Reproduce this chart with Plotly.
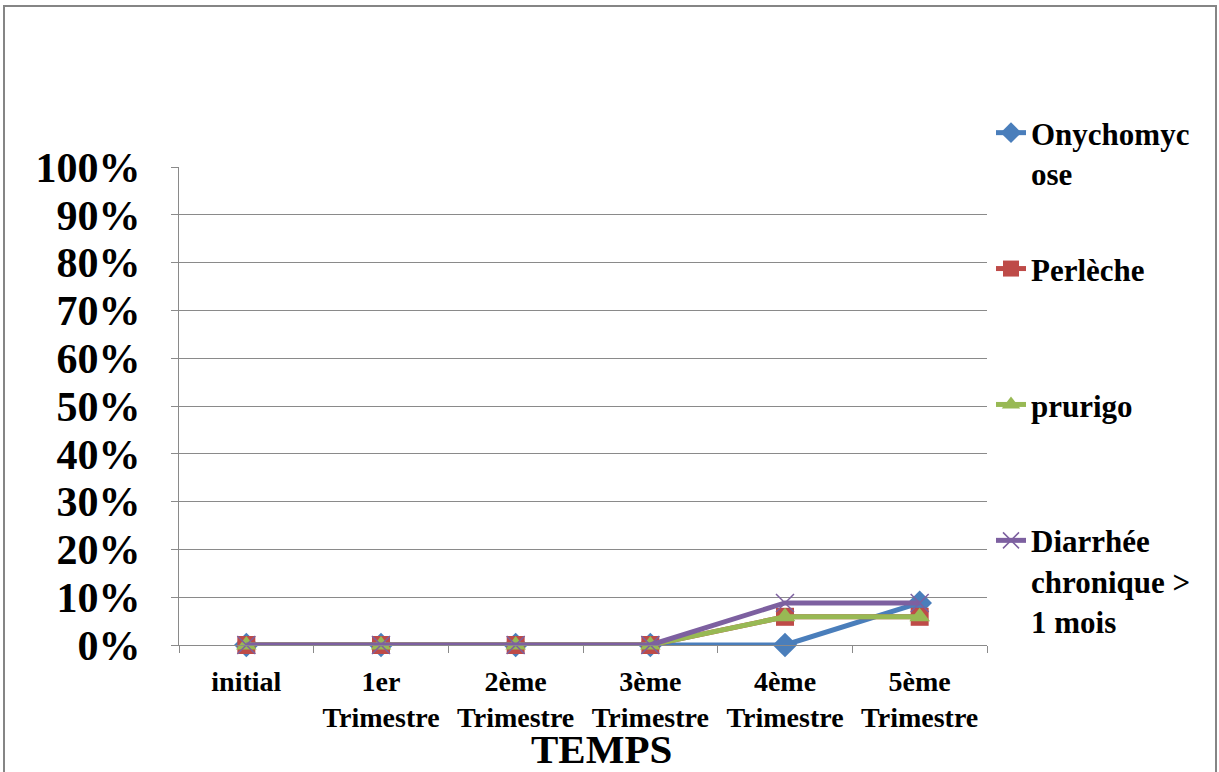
import plotly.graph_objects as go

# Quarterly follow-up periods
categories = ["initial", "1er<br>Trimestre", "2ème<br>Trimestre",
              "3ème<br>Trimestre", "4ème<br>Trimestre", "5ème<br>Trimestre"]

# Share of patients presenting each condition per period
onychomycose = [0, 0, 0, 0, 0, 0.088]
perleche = [0, 0, 0, 0, 0.059, 0.059]
prurigo = [0, 0, 0, 0, 0.059, 0.059]
diarrhee = [0, 0, 0, 0, 0.088, 0.088]

series_names = ["Onychomyc<br>ose<br>\u00a0", "Perlèche<br>\u00a0<br>\u00a0",
                "prurigo<br>\u00a0<br>\u00a0", "Diarrhée<br>chronique ><br>1 mois"]

W, H = 1219, 772
L, R, T, B = 179, 987, 167, 645  # plot area in pixels
pw, ph = R - L, B - T

FONT = '"Liberation Serif", "Times New Roman", Times, serif'
GRID = "#8a8a8a"

styles = [
    dict(color="#4A7EBB", symbol="diamond", size=19),
    dict(color="#BE4B48", symbol="square", size=18),
    dict(color="#98B954", symbol="triangle-up", size=18),
    dict(color="#7D60A0", symbol="x-thin-open", size=18),
]

fig = go.Figure()
for i, (name, vals, st) in enumerate(zip(series_names,
                                         [onychomycose, perleche, prurigo, diarrhee],
                                         styles)):
    marker = dict(symbol=st["symbol"], size=st["size"], color=st["color"])
    if st["symbol"].startswith("x-thin"):
        marker["line"] = dict(color="#9d8fbf", width=1.5)
    fig.add_trace(go.Scatter(
        x=categories, y=vals, name=name, mode="lines+markers",
        line=dict(color=st["color"], width=5),
        marker=marker, cliponaxis=False, legendgroup=f"g{i}",
    ))


def px_x(p):
    return (p - L) / pw


def px_y(p):
    return (B - p) / ph


fig.update_layout(
    width=W, height=H,
    margin=dict(l=L, r=W - R, t=T, b=H - B, pad=0),
    paper_bgcolor="white", plot_bgcolor="white",
    font=dict(family=FONT, color="black"),
    showlegend=True,
    legend=dict(
        x=px_x(991), y=px_y(106), xanchor="left", yanchor="top",
        bgcolor="rgba(0,0,0,0)", traceorder="grouped", tracegroupgap=12,
        valign="top", itemwidth=30, maxheight=700,
        font=dict(family=FONT, size=31, color="black", weight="bold"),
    ),
    xaxis=dict(
        type="category", range=[-0.5, 5.5], showgrid=False,
        showline=True, linecolor=GRID, linewidth=1,
        ticks="outside", tickson="boundaries", ticklen=7, tickcolor=GRID,
        tickfont=dict(family=FONT, size=28, color="black", weight="bold"),
        ticklabelstandoff=11, zeroline=False,
    ),
    yaxis=dict(
        range=[0, 1], dtick=0.1, tickformat=".0%",
        showgrid=True, gridcolor=GRID, gridwidth=1,
        showline=True, linecolor=GRID, linewidth=1,
        ticks="outside", ticklen=7, tickcolor=GRID,
        tickfont=dict(family=FONT, size=42, color="black", weight="bold"),
        ticklabelstandoff=22, zeroline=False,
    ),
    annotations=[dict(
        text="TEMPS", xref="paper", yref="paper",
        x=px_x(601), y=px_y(749), xanchor="center", yanchor="middle",
        showarrow=False,
        font=dict(family=FONT, size=41, color="black", weight="bold"),
    )],
    shapes=[dict(
        type="rect", xref="paper", yref="paper",
        x0=px_x(4), x1=px_x(1216), y0=px_y(800), y1=px_y(6),
        line=dict(color="#858585", width=2), layer="below",
    )],
)

fig.write_html("out.html")
